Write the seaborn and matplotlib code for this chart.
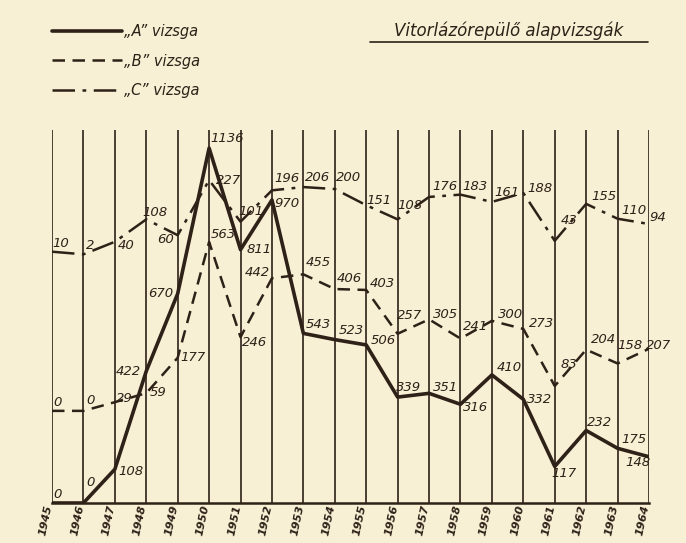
import matplotlib
matplotlib.use('Agg')
import matplotlib.pyplot as plt
import matplotlib.transforms as mtransforms
from matplotlib.lines import Line2D
import seaborn as sns

# ── Data ────────────────────────────────────────────────────────────────────
years = [1945, 1946, 1947, 1948, 1949, 1950, 1951, 1952, 1953, 1954,
         1955, 1956, 1957, 1958, 1959, 1960, 1961, 1962, 1963, 1964]
exam_a = [0, 0, 108, 422, 670, 1136, 811, 970, 543, 523,
          506, 339, 351, 316, 410, 332, 117, 232, 175, 148]
exam_b = [0, 0, 29, 59, 177, 563, 246, 442, 455, 406,
          403, 257, 305, 241, 300, 273, 83, 204, 158, 207]
exam_c = [10, 2, 40, 108, 60, 227, 101, 196, 206, 200,
          151, 108, 176, 183, 161, 188, 43, 155, 110, 94]
labels = ['„A” vizsga', '„B” vizsga', '„C” vizsga']
title = 'Vitorlázórepülő alapvizsgák'

# ── Style ───────────────────────────────────────────────────────────────────
INK = '#2e2118'
BG = '#F7F0D4'

# label offsets in pixels (dx, dy) for each series
off_a = [(6, 8), (7, 20), (16, -2), (-18, 0), (-17, 0), (18, 10), (19, 0),
         (15, -4), (15, 9), (17, 9), (17, 4), (11, 10), (16, 6), (15, -3),
         (17, 7), (16, 0), (9, -7), (13, 8), (16, 9), (-11, -6)]
off_b = [(6, 8), (7, 10), (9, 4), (12, 1), (15, 0), (14, 7), (14, -5),
         (-15, 6), (15, 12), (15, 11), (16, 6), (12, 18), (16, 5), (15, 12),
         (19, 6), (18, 5), (14, 21), (17, 10), (12, 18), (10, 3)]
off_c = [(9, 8), (7, 9), (11, -4), (9, 7), (-12, -4), (19, 0), (10, 10),
         (15, 12), (14, 10), (14, 12), (13, 5), (12, 14), (16, 10), (14, 8),
         (15, 9), (17, 4), (14, 20), (18, 7), (16, 8), (9, 6)]

sns.set_theme(style='white')
plt.rcParams['font.family'] = ['DejaVu Sans']

fig = plt.figure(figsize=(6.86, 5.43), dpi=100)
fig.patch.set_facecolor(BG)
ax = fig.add_axes([52 / 686, 1 - 503 / 543, (649 - 52) / 686, (503 - 130) / 543])
ax.set_facecolor('none')

# each series had its own baseline on the paper -> one twin axis per series
ax_b = ax.twinx()
ax_c = ax.twinx()
ax.set_xlim(1945, 1964)
ax.set_ylim(0, 1194)
ax_b.set_ylim(-307, 936)
ax_c.set_ylim(-752, 379)

for a in (ax, ax_b, ax_c):
    a.set_yticks([])
    for s in a.spines.values():
        s.set_visible(False)
ax.spines['bottom'].set_visible(True)
ax.spines['bottom'].set_color(INK)
ax.spines['bottom'].set_linewidth(1.8)

ax.set_xticks(years)
ax.grid(axis='x', color=INK, linewidth=1.2)
ax.grid(axis='y', visible=False)
ax.tick_params(axis='x', length=0, pad=1)
ax.set_xticklabels([str(y) for y in years], rotation=78, fontsize=8,
                   fontstyle='italic', fontweight='bold', color=INK)
shift = mtransforms.ScaledTranslation(-0.06, 0, fig.dpi_scale_trans)
for lbl in ax.get_xticklabels():
    lbl.set_transform(lbl.get_transform() + shift)

sns.lineplot(x=years, y=exam_a, ax=ax, color=INK, linewidth=2.6)
sns.lineplot(x=years, y=exam_b, ax=ax_b, color=INK, linewidth=1.8,
             linestyle=(0, (5, 3)))
sns.lineplot(x=years, y=exam_c, ax=ax_c, color=INK, linewidth=1.8,
             linestyle=(0, (9, 3, 1.5, 3)))

for a, vals, offs in ((ax, exam_a, off_a), (ax_b, exam_b, off_b),
                      (ax_c, exam_c, off_c)):
    a.set_xlabel('')
    a.set_ylabel('')
    for yr, v, (dx, dy) in zip(years, vals, offs):
        a.annotate(str(v), xy=(yr, v), xytext=(dx, dy),
                   textcoords='offset pixels', ha='center', va='center',
                   fontsize=9.5, fontstyle='italic', color=INK,
                   annotation_clip=False)

handles = [ax.lines[0], ax_b.lines[0], ax_c.lines[0]]
fig.legend(handles, labels, loc='upper left',
           bbox_to_anchor=(52 / 686, 1 - 24 / 543), frameon=False,
           borderpad=0, borderaxespad=0,
           handlelength=4.8, handletextpad=0.15, labelspacing=1.0,
           prop={'style': 'italic', 'size': 10.5}, labelcolor=INK)

fig.text(509 / 686, 1 - 31 / 543, title, ha='center', va='center',
         fontsize=12, fontstyle='italic', color=INK)
fig.add_artist(Line2D([370 / 686, 648 / 686], [1 - 42 / 543] * 2,
                      color=INK, linewidth=1.2))

fig.savefig('out.png', dpi=100, facecolor=BG)
